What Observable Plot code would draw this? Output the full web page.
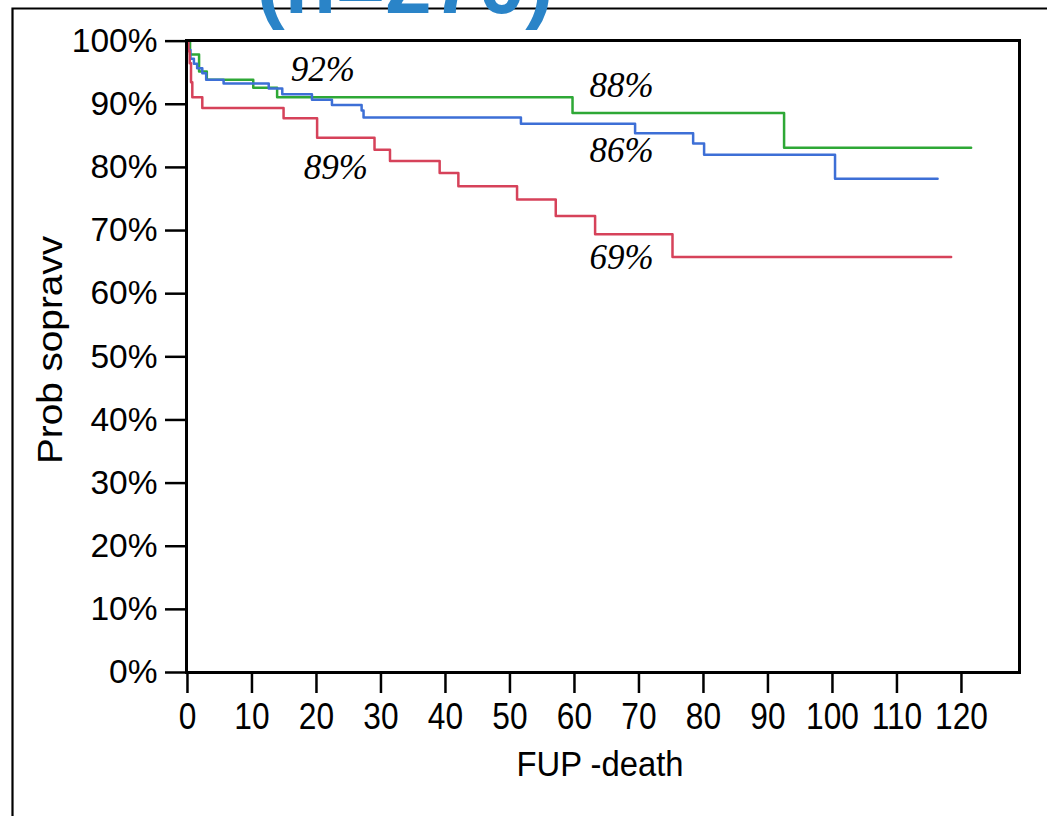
<!DOCTYPE html>
<html><head><meta charset="utf-8">
<script src="https://cdn.jsdelivr.net/npm/d3@7"></script>
<script src="https://cdn.jsdelivr.net/npm/@observablehq/plot@0.6"></script>
<style>body{margin:0;background:#fff;} svg{display:block}</style>
</head><body><div id="chart"></div>
<script>
// ---- data ----
const xTicks = [0,10,20,30,40,50,60,70,80,90,100,110,120];
const yTicks = [0,10,20,30,40,50,60,70,80,90,100];

const greenTime = [0, 0.4, 1.8, 3.0, 10.2, 13.9, 59.7, 92.5, 121.5];
const greenSurv = [100, 97.9, 95.2, 93.9, 92.6, 91.1, 88.6, 83.1, 83.1];

const blueTime = [0, 0.1, 0.46, 1.0, 1.5, 2.3, 2.9, 5.6, 12.6, 14.7, 19.3, 22.4, 27.0, 27.3, 51.7, 69.4, 78.4, 80.1, 100.4, 116.3];
const blueSurv = [100, 98.6, 97.2, 96.4, 95.7, 94.9, 93.9, 93.3, 92.5, 91.6, 90.7, 89.9, 89.0, 87.9, 86.9, 85.4, 83.8, 82.0, 78.2, 78.2];

const redTime = [0, 0.15, 0.35, 0.55, 0.75, 2.3, 14.9, 20.1, 29.0, 31.4, 39.1, 42.0, 51.1, 57.1, 63.2, 75.2, 118.4];
const redSurv = [100, 98.4, 96.5, 93.5, 91.1, 89.4, 87.8, 84.7, 82.8, 81.0, 79.1, 77.0, 74.9, 72.3, 69.4, 65.8, 65.8];

const groupNames = ["group 1", "group 2", "group 3"];
const groupColors = ["#2ea836", "#3d6fd6", "#d6425a"];

const labelText = ["92%", "89%", "88%", "86%", "69%"];
const labelTime = [21.0, 23.0, 67.3, 67.3, 67.3];
const labelSurv = [93.7, 78.2, 91.1, 80.8, 63.9];

const titleText = "(n=270)";
const xTitle = "FUP -death";
const yTitle = "Prob sopravv";

// ---- build tables ----
const toRows = (group, t, s) => t.map((d, i) => ({group, time: d, surv: s[i]}));
const rows = [
  ...toRows(groupNames[0], greenTime, greenSurv),
  ...toRows(groupNames[1], blueTime, blueSurv),
  ...toRows(groupNames[2], redTime, redSurv)
];
const labels = labelText.map((d, i) => ({text: d, time: labelTime[i], surv: labelSurv[i]}));

const plot = Plot.plot({
  width: 1047, height: 816,
  marginLeft: 186, marginRight: 28, marginTop: 40, marginBottom: 144,
  style: {fontFamily: "'Liberation Sans', Arial, Helvetica, sans-serif", background: "white", color: "black"},
  x: {domain: [-0.15, 129]},
  y: {domain: [0, 100.1]},
  color: {type: "ordinal", domain: groupNames, range: groupColors},
  marks: [
    Plot.line(rows, {x: "time", y: "surv", z: "group", stroke: "group", curve: "step-after", strokeWidth: 2.5}),
    Plot.text(labels, {x: "time", y: "surv", text: "text", textAnchor: "middle", lineAnchor: "bottom",
      fontFamily: "'Liberation Serif', 'Times New Roman', serif", fontStyle: "italic", fontSize: 35, fill: "black"}),
    Plot.axisX({ticks: xTicks, tickSize: 21, tickPadding: 10, fontSize: 36, strokeWidth: 2.5, label: null, anchor: "bottom"}),
    Plot.axisY({ticks: yTicks, tickSize: 21, tickPadding: 8, fontSize: 33.5, strokeWidth: 2.5, label: null, anchor: "left", tickFormat: d => d + "%"}),
    Plot.frame({stroke: "black", strokeWidth: 3})
  ]
});

document.getElementById("chart").append(plot);
const svg = d3.select(plot);

// condensed x tick labels
svg.selectAll('g[aria-label="x-axis tick label"] text').each(function() {
  const w = this.getComputedTextLength();
  this.setAttribute("textLength", w * 0.88);
  this.setAttribute("lengthAdjust", "spacingAndGlyphs");
});

// outer border (left and top edges visible)
svg.append("path")
  .attr("d", "M12.5,820 V8.5 H1050")
  .attr("fill", "none").attr("stroke", "black").attr("stroke-width", 2.2);

// title, cut off at the top edge as in the reference
svg.append("text")
  .attr("x", 405).attr("y", 13)
  .attr("text-anchor", "middle")
  .attr("font-family", "'Liberation Sans', Arial, sans-serif")
  .attr("font-weight", "bold").attr("font-size", 84)
  .attr("fill", "#2a84c8")
  .text(titleText);

// x axis title
svg.append("text")
  .attr("x", 600).attr("y", 776)
  .attr("text-anchor", "middle")
  .attr("font-family", "'Liberation Sans', Arial, sans-serif")
  .attr("font-size", 35)
  .attr("textLength", 167).attr("lengthAdjust", "spacingAndGlyphs")
  .attr("fill", "black")
  .text(xTitle);

// y axis title
svg.append("text")
  .attr("transform", "translate(61.5,350) rotate(-90)")
  .attr("text-anchor", "middle")
  .attr("font-family", "'Liberation Sans', Arial, sans-serif")
  .attr("font-size", 35)
  .attr("textLength", 228).attr("lengthAdjust", "spacingAndGlyphs")
  .attr("fill", "black")
  .text(yTitle);
</script>
</body></html>
